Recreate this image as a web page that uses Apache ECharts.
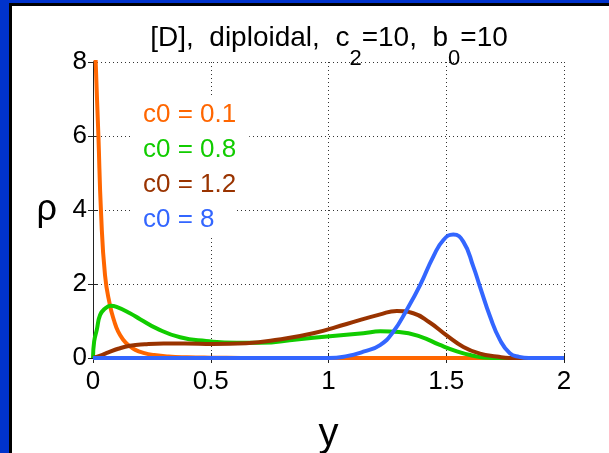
<!DOCTYPE html>
<html>
<head>
<meta charset="utf-8">
<script src="https://cdn.jsdelivr.net/npm/echarts@6/dist/echarts.min.js"></script>
<style>
  html, body { margin: 0; padding: 0; background: #fff; }
  #chart { position: absolute; left: 0; top: 0; width: 609px; height: 453px; }
  .edge { position: absolute; }
</style>
</head>
<body>
<div id="chart"></div>
<div class="edge" style="left:0;top:0;width:9px;height:453px;background:#0033cc"></div>
<div class="edge" style="left:0;top:0;width:609px;height:3px;background:#0033cc"></div>
<div class="edge" style="left:9px;top:3px;width:3px;height:450px;background:#000"></div>
<div class="edge" style="left:9px;top:3px;width:600px;height:3px;background:#000"></div>
<script>
// curves: y positions and densities for each c0
var legendNames = ['c0 = 0.1', 'c0 = 0.8', 'c0 = 1.2', 'c0 = 8'];
var lineColors = ['#ff6600', '#11cc00', '#993300', '#3366ff'];

var yOrange = [0, 0.012, 0.023, 0.034, 0.051, 0.072, 0.09, 0.107, 0.13, 0.15, 0.18, 0.214, 0.26, 0.32, 0.4, 0.5, 0.7, 1.0, 1.5, 2.0];
var rhoOrange = [10.5, 7.9, 6.0, 3.95, 2.24, 1.43, 1.0, 0.71, 0.48, 0.35, 0.22, 0.14, 0.08, 0.04, 0.02, 0.01, 0, 0, 0, 0];

var yGreen = [0, 0.005, 0.016, 0.03, 0.05, 0.075, 0.1, 0.157, 0.2, 0.27, 0.37, 0.48, 0.61, 0.71, 0.865, 1.006, 1.148, 1.22, 1.3, 1.39, 1.47, 1.545, 1.615, 1.66, 1.7, 2.0];
var rhoGreen = [0, 0.45, 0.76, 1.16, 1.33, 1.41, 1.38, 1.21, 1.05, 0.8, 0.56, 0.46, 0.41, 0.41, 0.5, 0.59, 0.67, 0.72, 0.7, 0.58, 0.36, 0.18, 0.06, 0.01, 0, 0];

var yBrown = [0, 0.037, 0.065, 0.107, 0.157, 0.22, 0.3, 0.39, 0.51, 0.65, 0.79, 0.935, 1.077, 1.22, 1.29, 1.36, 1.43, 1.5, 1.573, 1.643, 1.714, 1.77, 2.0];
var rhoBrown = [0, 0.08, 0.15, 0.25, 0.33, 0.37, 0.39, 0.39, 0.38, 0.4, 0.5, 0.67, 0.92, 1.18, 1.27, 1.21, 0.96, 0.62, 0.3, 0.12, 0.04, 0, 0];

var yBlue = [0, 1.0, 1.077, 1.148, 1.219, 1.275, 1.332, 1.389, 1.445, 1.488, 1.53, 1.573, 1.615, 1.643, 1.686, 1.728, 1.77, 1.81, 1.85, 2.0];
var rhoBlue = [0, 0, 0.05, 0.17, 0.35, 0.71, 1.3, 1.97, 2.74, 3.19, 3.34, 3.14, 2.47, 1.93, 1.12, 0.49, 0.13, 0.03, 0, 0];

var xTicks = [0, 0.5, 1, 1.5, 2];
var yTicks = [0, 2, 4, 6, 8];

var FONT = '"Liberation Sans", Arial, sans-serif';

function pairs(xs, ys) {
  var out = [];
  for (var i = 0; i < xs.length; i++) out.push([xs[i], ys[i]]);
  return out;
}

function makeLine(idx, xs, ys) {
  return {
    type: 'line',
    name: legendNames[idx],
    data: pairs(xs, ys),
    xAxisIndex: 0,
    yAxisIndex: 0,
    showSymbol: false,
    smooth: 0.5,
    clip: true,
    lineStyle: { color: lineColors[idx], width: 4 },
    itemStyle: { color: lineColors[idx] },
    emphasis: { disabled: true },
    animation: false
  };
}

// right-side paddings differ a little per text box, as in the picture
var boxRight = [15, 13, 15, 20];
var legendData = legendNames.map(function (n, i) {
  return {
    name: n,
    icon: 'none',
    textStyle: {
      color: lineColors[i],
      backgroundColor: '#fff',
      padding: [5, boxRight[i], 4, 12]
    }
  };
});

var gridLine = { show: true, lineStyle: { color: '#333', type: [1, 3], width: 1 } };
var frameLine = { show: true, lineStyle: { color: '#222', width: 1 } };

var chart = echarts.init(document.getElementById('chart'), null, { renderer: 'canvas' });

var option = {
  backgroundColor: '#fff',
  animation: false,
  title: {
    text: '{a|[D],  diploidal,  c}{s|2}{a|=10,  b}{s|0}{a|=10}',
    left: 329,
    top: 24,
    padding: 0,
    textAlign: 'center',
    textStyle: {
      fontWeight: 'normal',
      rich: {
        // subscript sits at the bottom of a taller line, main text at its top
        a: { fontFamily: FONT, fontSize: 28, fontWeight: 'normal', color: '#000', lineHeight: 30, verticalAlign: 'top' },
        s: { fontFamily: FONT, fontSize: 22, fontWeight: 'normal', color: '#000', lineHeight: 46, verticalAlign: 'bottom' }
      }
    }
  },
  legend: {
    orient: 'vertical',
    left: 116,
    top: 97,
    padding: 0,
    itemGap: 0,
    itemWidth: 10,
    itemHeight: 14,
    selectedMode: false,
    textStyle: { fontFamily: FONT, fontSize: 26, lineHeight: 26 },
    data: legendData
  },
  grid: { left: 93, top: 62, width: 471, height: 296, containLabel: false, outerBoundsMode: 'none' },
  xAxis: [
    {
      type: 'value', min: xTicks[0], max: xTicks[xTicks.length - 1], interval: 0.5,
      position: 'bottom',
      name: 'y', nameLocation: 'middle', nameGap: 57,
      nameTextStyle: { fontFamily: FONT, fontSize: 40, color: '#000' },
      axisLine: frameLine,
      axisTick: { show: true, inside: true, length: 5, lineStyle: { color: '#222' } },
      axisLabel: { fontFamily: FONT, fontSize: 26, color: '#000', margin: 11 },
      splitLine: gridLine
    },
    {
      type: 'value', min: 0, max: 2, interval: 0.5, position: 'top',
      axisLine: frameLine,
      axisTick: { show: true, inside: true, length: 5, lineStyle: { color: '#222' } },
      axisLabel: { show: false },
      splitLine: { show: false }
    }
  ],
  yAxis: [
    {
      type: 'value', min: yTicks[0], max: yTicks[yTicks.length - 1], interval: 2,
      position: 'left',
      name: 'ρ', nameLocation: 'middle', nameRotate: 0, nameGap: 36,
      nameTextStyle: { fontFamily: FONT, fontSize: 36, color: '#000', padding: [0, 0, 14, 0] },
      axisLine: frameLine,
      axisTick: { show: true, inside: true, length: 5, lineStyle: { color: '#222' } },
      axisLabel: { fontFamily: FONT, fontSize: 26, color: '#000', margin: 6 },
      splitLine: gridLine
    },
    {
      type: 'value', min: 0, max: 8, interval: 2, position: 'right',
      axisLine: frameLine,
      axisTick: { show: true, inside: true, length: 5, lineStyle: { color: '#222' } },
      axisLabel: { show: false },
      splitLine: { show: false }
    }
  ],
  series: [
    makeLine(0, yOrange, rhoOrange),
    makeLine(1, yGreen, rhoGreen),
    makeLine(2, yBrown, rhoBrown),
    makeLine(3, yBlue, rhoBlue)
  ]
};

chart.setOption(option);
</script>
</body>
</html>
